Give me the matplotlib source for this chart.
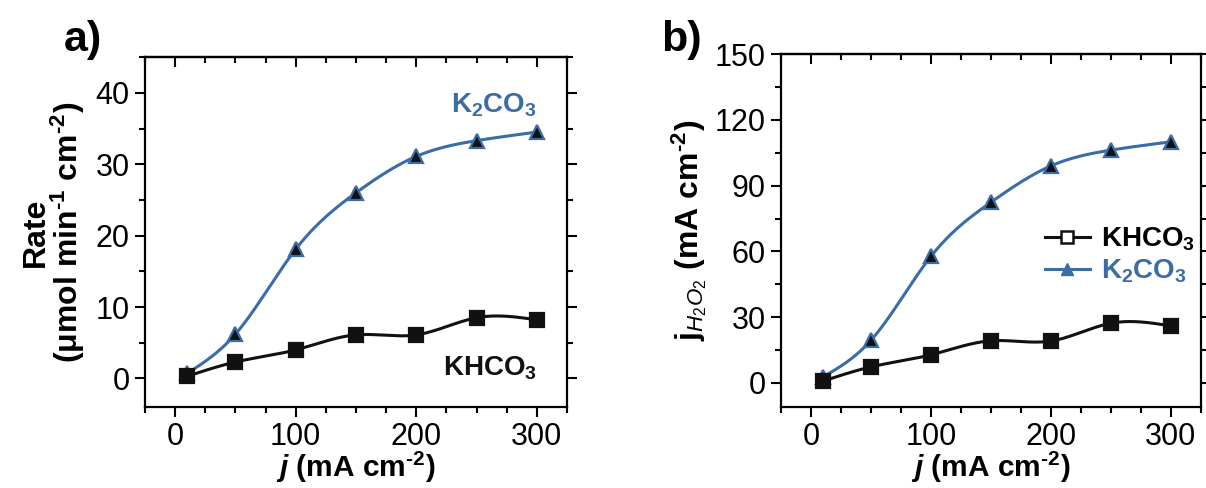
import numpy as np
import matplotlib
matplotlib.use("Agg")
import matplotlib.pyplot as plt
from matplotlib.lines import Line2D
from matplotlib.ticker import MultipleLocator, NullFormatter

plt.rcParams['font.family'] = ['Liberation Sans', 'DejaVu Sans']
plt.rcParams['mathtext.fontset'] = 'custom'
plt.rcParams['mathtext.rm'] = 'Liberation Sans'
plt.rcParams['mathtext.it'] = 'Liberation Sans:italic'
plt.rcParams['mathtext.bf'] = 'Liberation Sans:bold'
plt.rcParams['mathtext.bfit'] = 'Liberation Sans:bold:italic'

# ---- data ----
current = [10, 50, 100, 150, 200, 250, 300]
rate_khco3 = [0.3, 2.3, 4.0, 6.1, 6.1, 8.5, 8.2]
rate_k2co3 = [0.7, 6.2, 18.1, 26.0, 31.1, 33.3, 34.5]
jh2o2_khco3 = [0.8, 7.3, 12.8, 19.2, 19.1, 27.2, 26.0]
jh2o2_k2co3 = [2.7, 19.4, 57.7, 82.4, 99.0, 106.2, 110.0]

BLUE = '#3a6ca6'
BLACK = '#111111'
HY = '\u2010'  # hyphen used in superscripts


def natural_spline(x, y, n=300):
    x = np.asarray(x, float); y = np.asarray(y, float)
    m = len(x)
    h = np.diff(x)
    A = np.zeros((m, m)); r = np.zeros(m)
    A[0, 0] = 1; A[-1, -1] = 1
    for i in range(1, m - 1):
        A[i, i - 1] = h[i - 1]
        A[i, i] = 2 * (h[i - 1] + h[i])
        A[i, i + 1] = h[i]
        r[i] = 3 * ((y[i + 1] - y[i]) / h[i] - (y[i] - y[i - 1]) / h[i - 1])
    c = np.linalg.solve(A, r)
    xs = np.linspace(x[0], x[-1], n)
    ys = np.empty_like(xs)
    for k, xv in enumerate(xs):
        i = min(np.searchsorted(x, xv, side='right') - 1, m - 2)
        dx = xv - x[i]
        b = (y[i + 1] - y[i]) / h[i] - h[i] * (2 * c[i] + c[i + 1]) / 3
        d = (c[i + 1] - c[i]) / (3 * h[i])
        ys[k] = y[i] + b * dx + c[i] * dx ** 2 + d * dx ** 3
    return xs, ys


fig = plt.figure(figsize=(12.06, 4.88), dpi=100)
axa = fig.add_axes([0.1202, 0.166, 0.350, 0.717])
axb = fig.add_axes([0.6476, 0.166, 0.348, 0.723])

TICK_FS = 22
LAB_FS = 23
XLAB_FS = 21.5


def style(ax, ymaj, ymin):
    ax.xaxis.set_major_locator(MultipleLocator(100))
    ax.xaxis.set_minor_locator(MultipleLocator(25))
    ax.yaxis.set_major_locator(MultipleLocator(ymaj))
    ax.yaxis.set_minor_locator(MultipleLocator(ymin))
    ax.tick_params(axis='both', which='both', direction='out', width=1.5,
                   labelsize=TICK_FS, top=False, right=True, pad=4)
    ax.tick_params(which='major', length=7)
    ax.tick_params(which='minor', length=4.5)
    for sp in ax.spines.values():
        sp.set_linewidth(1.6)
    # top ticks pointing inward
    sec = ax.secondary_xaxis('top')
    sec.xaxis.set_major_locator(MultipleLocator(100))
    sec.xaxis.set_minor_locator(MultipleLocator(25))
    sec.xaxis.set_major_formatter(NullFormatter())
    sec.tick_params(axis='x', which='both', direction='in', width=1.5)
    sec.tick_params(which='major', length=7)
    sec.tick_params(which='minor', length=4.5)
    sec.spines['top'].set_linewidth(1.6)


def plot_series(ax, x, y, color, marker, mfc, mec, ms):
    xs, ys = natural_spline(x, y)
    ax.plot(xs, ys, color=color, lw=2.2, zorder=2)
    ax.plot(x, y, ls='none', marker=marker, ms=ms, mfc=mfc, mec=mec,
            mew=1.6, zorder=3)


style(axa, 10, 5)
style(axb, 30, 15)

XLABEL = r'$\boldsymbol{j}$ (mA cm$^{\mathbf{' + HY + r'2}}$)'

# Panel a
plot_series(axa, current, rate_k2co3, BLUE, '^', BLACK, BLUE, 10.5)
plot_series(axa, current, rate_khco3, BLACK, 's', BLACK, BLACK, 9.5)
axa.set_xlim(-25, 325)
axa.set_ylim(-4, 45)
axa.set_xlabel(XLABEL, fontsize=XLAB_FS, fontweight='bold', labelpad=-2)
axa.set_ylabel('Rate\n(μmol min$^{\\mathbf{' + HY + '1}}$ cm$^{\\mathbf{' + HY + '2}}$)',
               fontsize=LAB_FS, fontweight='bold', labelpad=6, linespacing=0.95)
axa.text(300, 38.2, r'K$_{\mathbf{2}}$CO$_{\mathbf{3}}$', color=BLUE,
         fontsize=20, fontweight='bold', ha='right', va='center')
axa.text(300, 1.4, r'KHCO$_{\mathbf{3}}$', color=BLACK,
         fontsize=20, fontweight='bold', ha='right', va='center')
fig.text(0.053, 0.918, 'a)', fontsize=31, fontweight='bold', ha='left', va='center')

# Panel b
plot_series(axb, current, jh2o2_k2co3, BLUE, '^', BLACK, BLUE, 10.5)
plot_series(axb, current, jh2o2_khco3, BLACK, 's', BLACK, BLACK, 9.5)
axb.set_xlim(-25, 325)
axb.set_ylim(-11, 150)
axb.set_xlabel(XLABEL, fontsize=XLAB_FS, fontweight='bold', labelpad=-2)
axb.set_ylabel(r'j$_{H_2O_2}$ (mA cm$^{\mathbf{' + HY + r'2}}$)', fontsize=LAB_FS,
               fontweight='bold', labelpad=4)
fig.text(0.548, 0.918, 'b)', fontsize=31, fontweight='bold', ha='left', va='center')

handles = [
    Line2D([], [], color=BLACK, lw=2.2, marker='s', ms=8, mfc='white', mec=BLACK, mew=1.8),
    Line2D([], [], color=BLUE, lw=2.2, marker='^', ms=9, mfc=BLUE, mec=BLUE),
]
leg = axb.legend(handles, [r'KHCO$_{\mathbf{3}}$', r'K$_{\mathbf{2}}$CO$_{\mathbf{3}}$'],
                 loc='upper left', bbox_to_anchor=(0.57, 0.585), frameon=False,
                 handlelength=1.6, handletextpad=0.4, labelspacing=0.15,
                 prop={'size': 20, 'weight': 'bold'})
leg.get_texts()[1].set_color(BLUE)

fig.savefig('out.png', dpi=100)
